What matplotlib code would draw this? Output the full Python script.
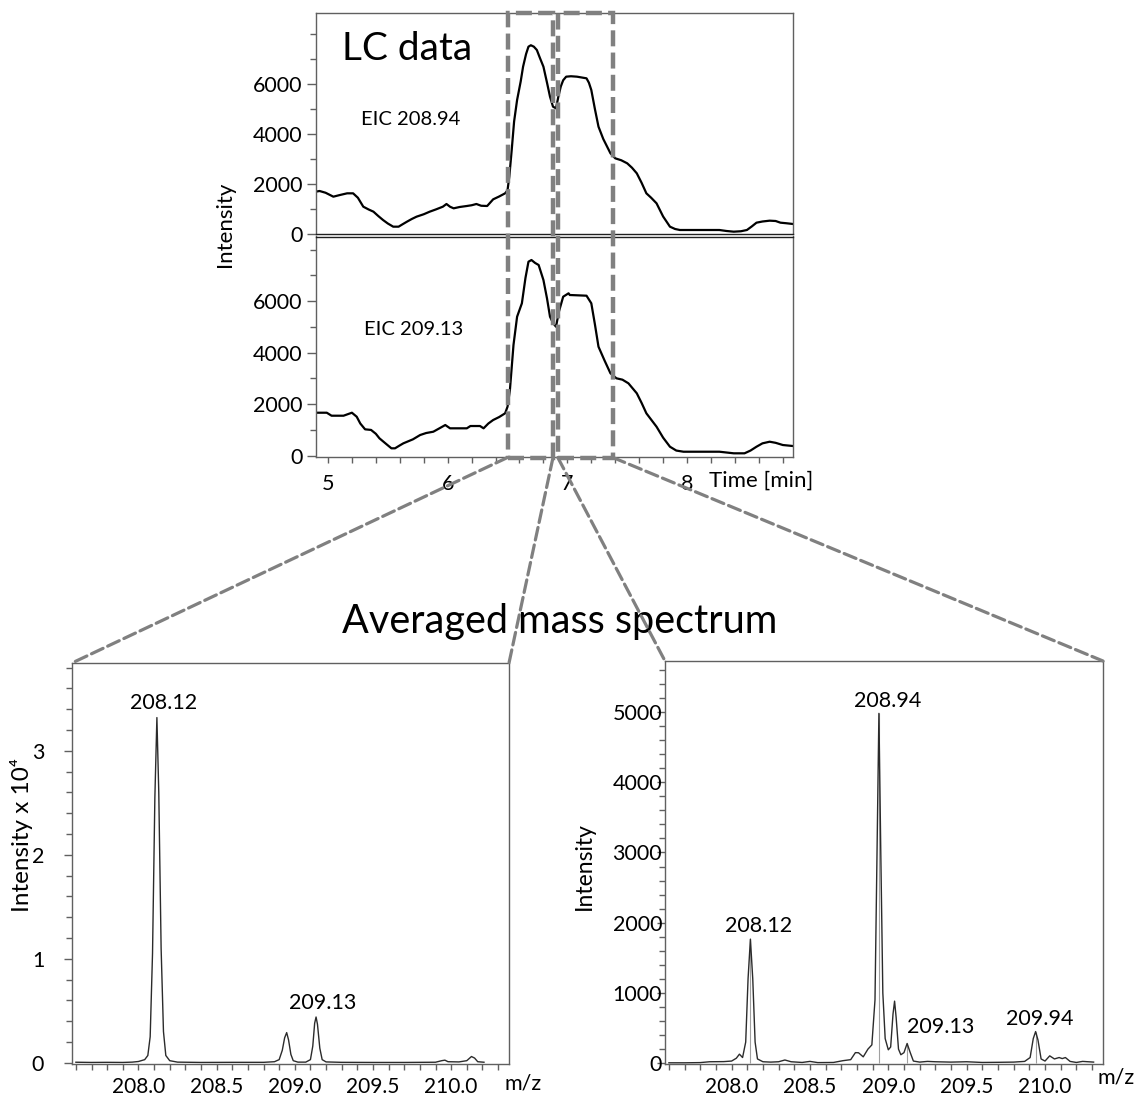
import matplotlib
matplotlib.use("Agg")
import matplotlib.pyplot as plt
from matplotlib.patches import Rectangle, ConnectionPatch
from matplotlib.ticker import MultipleLocator, FormatStrFormatter
import matplotlib.transforms as mtransforms

plt.rcParams['font.family'] = ['Lato', 'DejaVu Sans']

# ---------------- data ----------------
eic1_time = [4.897, 4.93, 4.98, 5.045, 5.10, 5.16, 5.21, 5.25, 5.295, 5.34, 5.38, 5.42, 5.46,
             5.50, 5.545, 5.59, 5.62, 5.66, 5.70, 5.74, 5.80, 5.85, 5.90, 5.96, 5.99, 6.02,
             6.05, 6.10, 6.16, 6.20, 6.24, 6.28, 6.33, 6.38, 6.43, 6.48, 6.50, 6.515, 6.535,
             6.555, 6.58, 6.61, 6.63, 6.655, 6.675, 6.695, 6.72, 6.745, 6.77, 6.80, 6.83,
             6.855, 6.88, 6.905, 6.925, 6.945, 6.965, 6.99, 7.03, 7.08, 7.16, 7.18, 7.20,
             7.23, 7.26, 7.30, 7.36, 7.40, 7.45, 7.50, 7.54, 7.58, 7.62, 7.66, 7.70, 7.745,
             7.80, 7.857, 7.90, 7.94, 8.10, 8.27, 8.33, 8.39, 8.45, 8.50, 8.54, 8.58, 8.63,
             8.69, 8.74, 8.78, 8.83, 8.885]
eic1_int = [1693, 1720, 1650, 1493, 1560, 1627, 1627, 1450, 1093, 980, 893, 720, 560,
            420, 293, 293, 380, 493, 600, 693, 790, 893, 980, 1093, 1200, 1090,
            1027, 1080, 1120, 1150, 1200, 1130, 1120, 1387, 1500, 1627, 1750, 2300, 3360,
            4500, 5360, 6100, 6693, 7200, 7493, 7550, 7493, 7360, 7050, 6693, 6050,
            5493, 5093, 5027, 5500, 5900, 6150, 6293, 6310, 6293, 6227, 6050, 5760,
            5000, 4293, 3800, 3227, 3027, 2950, 2827, 2650, 2427, 2050, 1627, 1450, 1227,
            700, 293, 200, 160, 160, 160, 120, 93, 110, 160, 300, 453, 500,
            533, 520, 453, 430, 400]

eic2_time = [4.897, 4.99, 5.03, 5.13, 5.20, 5.24, 5.27, 5.31, 5.36, 5.40, 5.43, 5.48, 5.53,
             5.56, 5.60, 5.63, 5.71, 5.77, 5.82, 5.88, 5.93, 5.98, 6.02, 6.10, 6.16, 6.19,
             6.27, 6.30, 6.34, 6.38, 6.43, 6.48, 6.50, 6.52, 6.55, 6.58, 6.62, 6.65, 6.675,
             6.70, 6.73, 6.76, 6.80, 6.83, 6.855, 6.88, 6.905, 6.93, 6.965, 7.01, 7.02,
             7.10, 7.16, 7.20, 7.23, 7.26, 7.31, 7.36, 7.41, 7.46, 7.51, 7.58, 7.62, 7.66,
             7.70, 7.745, 7.80, 7.857, 7.91, 7.97, 8.27, 8.39, 8.48, 8.53, 8.58, 8.63, 8.69,
             8.74, 8.80, 8.885]
eic2_int = [1668, 1668, 1552, 1552, 1668, 1513, 1250, 1024, 1000, 850, 675, 480, 287,
            287, 400, 481, 636, 803, 880, 931, 1060, 1191, 1063, 1063, 1063, 1152,
            1152, 1063, 1250, 1385, 1500, 1645, 1900, 2549, 4300, 5393, 5913, 6900, 7527,
            7593, 7480, 7399, 6817, 6100, 5393, 5150, 5005, 5600, 6169, 6301, 6235,
            6220, 6208, 5913, 5100, 4229, 3700, 3197, 3003, 2950, 2809, 2421, 2050, 1645,
            1400, 1125, 700, 349, 200, 155, 155, 93, 93, 200, 349, 480, 543,
            500, 415, 376]

eic_labels = ["EIC 208.94", "EIC 209.13"]
lc_xticks = [5, 6, 7, 8]
lc_yticks = [0, 2000, 4000, 6000]

# averaging windows (min)
window1 = (6.50, 6.88)
window2 = (6.92, 7.38)

# left spectrum (intensity x 10^4)
left_mz = [207.60, 207.70, 207.80, 207.90, 207.96, 208.00, 208.04, 208.06, 208.075, 208.09,
           208.105, 208.118, 208.13, 208.145, 208.16, 208.175, 208.20, 208.25, 208.40,
           208.60, 208.80, 208.87, 208.90, 208.92, 208.935, 208.948, 208.96, 208.975,
           208.99, 209.02, 209.07, 209.10, 209.115, 209.127, 209.136, 209.145, 209.16,
           209.175, 209.20, 209.30, 209.50, 209.70, 209.90, 209.94, 209.96, 209.98,
           210.05, 210.10, 210.13, 210.15, 210.17, 210.21]
left_int = [0.005, 0.003, 0.004, 0.003, 0.006, 0.012, 0.03, 0.07, 0.25, 1.05,
            2.55, 3.32, 2.6, 1.1, 0.3, 0.07, 0.02, 0.006, 0.003,
            0.004, 0.004, 0.01, 0.03, 0.12, 0.24, 0.29, 0.22, 0.08,
            0.02, 0.006, 0.006, 0.03, 0.16, 0.38, 0.44, 0.37, 0.14,
            0.03, 0.008, 0.004, 0.003, 0.003, 0.005, 0.02, 0.025, 0.01,
            0.008, 0.02, 0.06, 0.045, 0.01, 0.005]
left_peak_mz = [208.118, 209.136]
left_peak_int = [3.32, 0.44]
left_peak_labels = ["208.12", "209.13"]

# right spectrum (intensity)
right_mz = [207.60, 207.70, 207.80, 207.86, 207.95, 208.00, 208.03, 208.05, 208.07, 208.09,
            208.105, 208.12, 208.135, 208.15, 208.165, 208.20, 208.25, 208.30, 208.34,
            208.38, 208.45, 208.50, 208.55, 208.65, 208.71, 208.76, 208.79, 208.81, 208.84,
            208.87, 208.895, 208.915, 208.928, 208.94, 208.952, 208.965, 208.98, 209.00,
            209.015, 209.03, 209.04, 209.05, 209.065, 209.08, 209.10, 209.12, 209.14,
            209.16, 209.20, 209.25, 209.30, 209.40, 209.50, 209.60, 209.70, 209.80,
            209.87, 209.905, 209.925, 209.94, 209.955, 209.975, 210.00, 210.03, 210.06,
            210.09, 210.11, 210.13, 210.16, 210.20, 210.24, 210.31]
right_int = [5, 5, 8, 20, 22, 30, 70, 128, 80, 300,
             1200, 1766, 1200, 300, 60, 20, 15, 20, 45,
             20, 10, 25, 8, 10, 35, 50, 150, 148, 90,
             200, 260, 900, 3000, 4980, 3000, 1000, 350, 190,
             230, 700, 883, 650, 200, 120, 150, 280, 150,
             30, 15, 25, 20, 15, 20, 10, 12, 15,
             25, 80, 350, 450, 330, 60, 30, 104, 60,
             80, 65, 80, 25, 10, 25, 15]
right_peak_mz = [208.12, 208.94, 209.12, 209.94]
right_peak_int = [1766, 4980, 280, 450]
right_peak_labels = ["208.12", "208.94", "209.13", "209.94"]

# ---------------- figure ----------------
W, H = 1134, 1099
fig = plt.figure(figsize=(W / 100, H / 100), dpi=100)

def frac(l, t, r, b):
    return [l / W, 1 - b / H, (r - l) / W, (b - t) / H]

ax1 = fig.add_axes(frac(316, 13, 793, 234))
ax2 = fig.add_axes(frac(316, 236.5, 793, 457))
axL = fig.add_axes(frac(72, 663, 509, 1064))
axR = fig.add_axes(frac(665, 661, 1103, 1064))

spine_col = '#606060'
tick_fs = 15.5

for ax in (ax1, ax2):
    for s in ax.spines.values():
        s.set_color(spine_col)
        s.set_linewidth(1.0)
    ax.set_xlim(4.9, 8.885)
    ax.set_yticks(lc_yticks)
    ax.yaxis.set_minor_locator(MultipleLocator(1000))
    ax.tick_params(axis='y', which='major', length=6.5, width=1, color=spine_col,
                   labelsize=tick_fs, pad=3)
    ax.tick_params(axis='y', which='minor', length=4, width=1, color=spine_col)

ax1.plot(eic1_time, eic1_int, color='black', lw=1.6)
ax2.plot(eic2_time, eic2_int, color='black', lw=1.6)
ax1.set_ylim(0, 8840)
ax2.set_ylim(-50, 8505)
ax1.spines['bottom'].set_color('#202020')
ax2.spines['top'].set_color('#202020')
ax1.tick_params(axis='x', which='both', bottom=False, labelbottom=False)
ax2.set_xticks(lc_xticks)
ax2.xaxis.set_minor_locator(MultipleLocator(0.2))
ax2.tick_params(axis='x', which='both', length=4.5, width=1, color=spine_col,
                labelsize=tick_fs, pad=8)

ax1.text(0.055, 0.835, "LC data", transform=ax1.transAxes, fontsize=28, va='center', ha='left')
ax1.text(0.095, 0.52, eic_labels[0], transform=ax1.transAxes, fontsize=14.5, va='center', ha='left')
ax2.text(0.1, 0.58, eic_labels[1], transform=ax2.transAxes, fontsize=14.5, va='center', ha='left')
fig.text(225 / W, 1 - 224 / H, "Intensity", rotation=90, fontsize=16, ha='center', va='center')
fig.text(709 / W, 1 - 481 / H, "Time [min]", fontsize=16, ha='left', va='center')

# windows (dashed boxes) spanning both LC panels
gray = '#808080'
btrans = mtransforms.blended_transform_factory(ax2.transData, fig.transFigure)
y_bot = 1 - 457.5 / H
y_top = 1 - 13 / H
for (t0, t1) in (window1, window2):
    rect = Rectangle((t0, y_bot), t1 - t0, y_top - y_bot, transform=btrans, fill=False,
                     ec=gray, lw=3.2, ls=(0, (3.6, 1.4)), clip_on=False, zorder=5)
    fig.add_artist(rect)

# connectors
conn = [(window1[0], axL, (0, 1)), (window1[1], axL, (1, 1)),
        (window2[0], axR, (0, 1)), (window2[1], axR, (1, 1))]
for t, axT, pt in conn:
    cp = ConnectionPatch(xyA=(t, y_bot), coordsA=btrans, xyB=pt, coordsB=axT.transAxes,
                         color=gray, lw=2.3, ls=(0, (4, 1.6)), zorder=4)
    fig.add_artist(cp)

fig.text(560 / W, 1 - 622 / H, "Averaged mass spectrum", fontsize=28.5, ha='center', va='center')

# spectra
spec_col = '#2b2b2b'
for ax in (axL, axR):
    for s in ax.spines.values():
        s.set_color(spine_col)
        s.set_linewidth(1.0)
    ax.set_xlim(207.575, 210.37)
    ax.xaxis.set_major_locator(MultipleLocator(0.5))
    ax.xaxis.set_minor_locator(MultipleLocator(0.1))
    ax.xaxis.set_major_formatter(FormatStrFormatter('%.1f'))
    ax.tick_params(axis='x', which='both', length=4.5, width=1, color=spine_col,
                   labelsize=15, pad=5)

axL.plot(left_mz, left_int, color=spec_col, lw=1.0)
axL.set_ylim(-0.012, 3.845)
axL.yaxis.set_major_locator(MultipleLocator(1))
axL.yaxis.set_minor_locator(MultipleLocator(0.2))
axL.yaxis.set_major_formatter(FormatStrFormatter('%d'))
axL.tick_params(axis='y', which='major', length=6, width=1, color=spine_col,
                labelsize=tick_fs, pad=14)
axL.tick_params(axis='y', which='minor', length=4, width=1, color=spine_col)
for mz, it, lab in zip(left_peak_mz, left_peak_int, left_peak_labels):
    axL.annotate(lab, (mz, it), xytext=(5, 3), textcoords='offset points',
                 ha='center', va='bottom', fontsize=15.5)

axR.vlines(right_peak_mz, 0, right_peak_int, color='#a0a0a0', lw=0.8)
axR.plot(right_mz, right_int, color=spec_col, lw=1.0)
axR.set_ylim(-12, 5726)
axR.yaxis.set_major_locator(MultipleLocator(1000))
axR.yaxis.set_minor_locator(MultipleLocator(200))
axR.tick_params(axis='y', which='major', length=6, width=1, color=spine_col,
                labelsize=tick_fs, pad=-4)
axR.tick_params(axis='y', which='minor', length=4, width=1, color=spine_col)
r_off = [(6, 2), (6, 2), (24, 5), (3, 2)]
for mz, it, lab, off in zip(right_peak_mz, right_peak_int, right_peak_labels, r_off):
    axR.annotate(lab, (mz, it), xytext=off, textcoords='offset points',
                 ha='center', va='bottom', fontsize=15.5)

fig.text(22 / W, 1 - 835 / H, "Intensity x 10\u2074", rotation=90, fontsize=17.5,
         ha='center', va='center')
fig.text(584 / W, 1 - 866 / H, "Intensity", rotation=90, fontsize=16.5, ha='center', va='center')
fig.text(523 / W, 1 - 1083 / H, "m/z", fontsize=15.5, ha='center', va='center')
fig.text(1116 / W, 1 - 1078 / H, "m/z", fontsize=15.5, ha='center', va='center')

fig.savefig("out.png", dpi=100)
